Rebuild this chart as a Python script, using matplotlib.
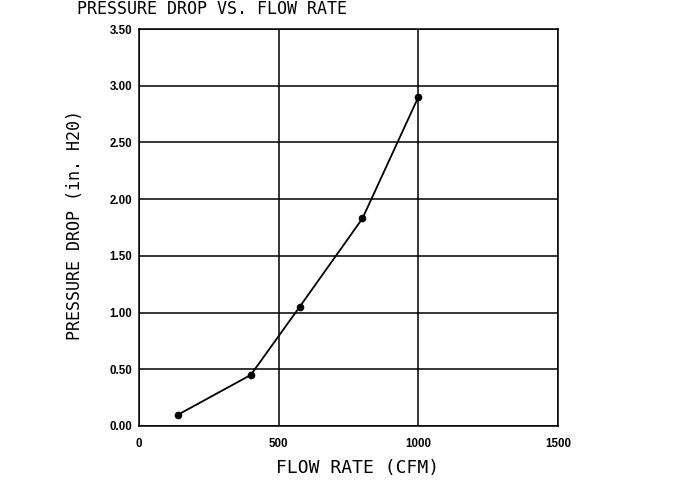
import matplotlib
matplotlib.use("Agg")
import matplotlib.pyplot as plt

# flow rate (CFM) vs pressure drop (in. H2O)
flow = [140, 400, 575, 800, 1000]
drop = [0.10, 0.45, 1.05, 1.83, 2.90]

x_ticks = [0, 500, 1000, 1500]
y_ticks = [0.0, 0.5, 1.0, 1.5, 2.0, 2.5, 3.0, 3.5]

fig = plt.figure(figsize=(6.91, 4.86), dpi=100)
ax = fig.add_axes([0.2012, 0.1235, 0.6063, 0.8168])

ax.plot(flow, drop, color="black", lw=1.3, marker="o", ms=4.5, zorder=3)

ax.set_xlim(0, 1500)
ax.set_ylim(0, 3.5)
ax.set_xticks(x_ticks)
ax.set_xticklabels([str(t) for t in x_ticks])
ax.set_yticks(y_ticks)
ax.set_yticklabels(["%.2f" % t for t in y_ticks])
ax.tick_params(length=0, labelsize=8.3)
ax.tick_params(axis="x", pad=9)
ax.tick_params(axis="y", pad=5)
for lab in ax.get_xticklabels() + ax.get_yticklabels():
    lab.set_fontfamily("Liberation Sans")
    lab.set_fontweight("bold")

ax.grid(True, color="black", lw=1.1)
for s in ax.spines.values():
    s.set_linewidth(1.1)

cad = "DejaVu Sans Mono"
fig.text(0.307, 0.999, "PRESSURE DROP VS. FLOW RATE", family=cad, fontsize=12,
         ha="center", va="top")
fig.text(0.517, 0.037, "FLOW RATE (CFM)", family=cad, fontsize=13,
         ha="center", va="center")
fig.text(0.108, 0.537, "PRESSURE DROP (in. H20)", family=cad, fontsize=12,
         ha="center", va="center", rotation=90)

fig.savefig("out.png", dpi=100)
